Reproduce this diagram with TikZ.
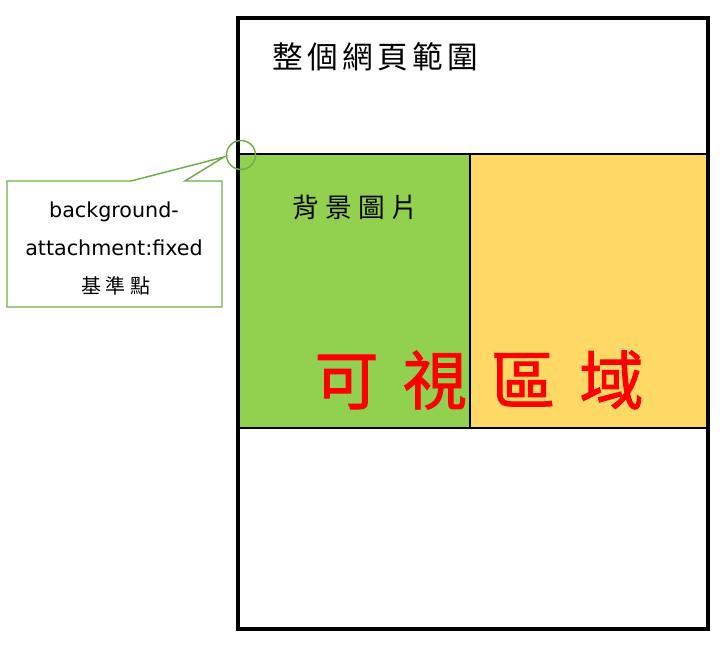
\documentclass[tikz,border=0pt]{standalone}
\usepackage{fontspec}
\setmainfont{DejaVu Sans}
\newfontfamily\cjktitle[LetterSpace=14]{Noto Sans CJK TC}
\newfontfamily\cjkimg[LetterSpace=24]{Noto Sans CJK TC}
\newfontfamily\cjkview[LetterSpace=38, FakeBold=1.5]{Noto Sans CJK TC}
\newfontfamily\cjknote[LetterSpace=22]{Noto Sans CJK TC}
\definecolor{imggreen}{HTML}{92D050}
\definecolor{viewyellow}{HTML}{FFD966}
\definecolor{notegreen}{HTML}{70AD47}

\begin{document}
\begin{tikzpicture}[x=0.75pt,y=-0.75pt,
            zone line/.style={draw=black, line width=1.5pt},
            page line/.style={draw=black, line width=2.4pt},
            note line/.style={draw=notegreen, line width=1.1pt},
            label node/.style={inner sep=0pt, text=black},
            ]
            \useasboundingbox (0,0) rectangle (723,646);

            % visible area: background image + rest
            \fill[imggreen] (238,154) rectangle (470,428);
            \fill[viewyellow] (470,154) rectangle (708,428);
            \draw[zone line] (238,154) -- (708,154);
            \draw[zone line] (238,428) -- (708,428);
            \draw[zone line] (470,154) -- (470,428);
            \draw[page line] (238,18) rectangle (708,629);

            \node[label node, font=\cjktitle\fontsize{23}{23}\selectfont] (page) at (375,57) {整個網頁範圍};
            \node[label node, font=\cjkimg\fontsize{20}{20}\selectfont] (bgimage) at (355,207) {背景圖片};
            \node[label node, text=red, font=\cjkview\fontsize{48}{48}\selectfont] (viewarea) at (479,380) {可視區域};

            % callout
            \draw[note line, fill=white] (7,181) -- (131,181) -- (224,157) -- (185,181) -- (222,181)
                -- (222,307) -- (7,307) -- cycle;
            \node[circle, note line, minimum size=21.75pt, inner sep=0pt] (origin) at (241,155) {};
            \node[label node, font=\fontsize{15.5}{15.5}\selectfont] (attach1) at (114,212) {background-};
            \node[label node, font=\fontsize{15.5}{15.5}\selectfont] (attach2) at (114,248) {attachment:fixed};
            \node[label node, font=\cjknote\fontsize{15}{15}\selectfont] (basepoint) at (116,286) {基準點};
        \end{tikzpicture}
\end{document}
